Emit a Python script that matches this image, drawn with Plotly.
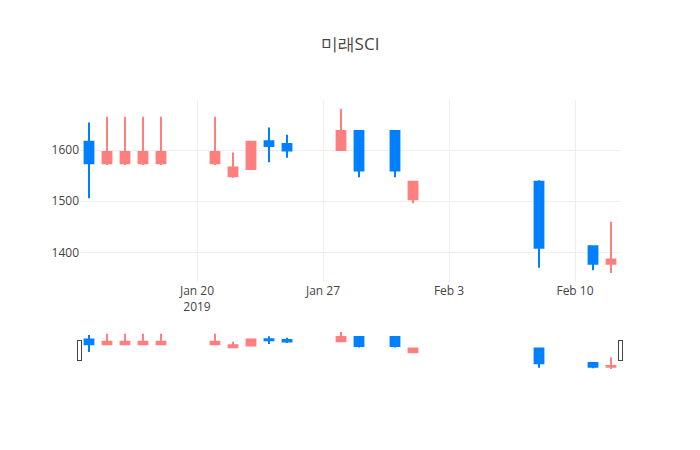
import pandas as pd
import plotly.graph_objects as go

dates = ["2019-01-14", "2019-01-15", "2019-01-16", "2019-01-17", "2019-01-18",
         "2019-01-21", "2019-01-22", "2019-01-23", "2019-01-24", "2019-01-25",
         "2019-01-28", "2019-01-29", "2019-01-31", "2019-02-01",
         "2019-02-08", "2019-02-11", "2019-02-12"]
open_ = [1616, 1574, 1574, 1574, 1574, 1574, 1549, 1563, 1617, 1612,
         1600, 1637, 1637, 1504, 1538, 1412, 1378]
high = [1654, 1665, 1665, 1665, 1665, 1665, 1595, 1617, 1644, 1630,
        1680, 1637, 1637, 1540, 1541, 1412, 1460]
low = [1506, 1571, 1571, 1571, 1571, 1571, 1546, 1561, 1576, 1585,
       1600, 1547, 1547, 1496, 1370, 1365, 1360]
close = [1574, 1596, 1596, 1596, 1596, 1596, 1566, 1616, 1608, 1599,
         1637, 1560, 1560, 1538, 1409, 1378, 1386]

df = pd.DataFrame({"Date": pd.to_datetime(dates), "Open": open_, "High": high,
                   "Low": low, "Close": close})

fig = go.Figure()
fig.add_trace(go.Candlestick(x=df["Date"], open=df["Open"], high=df["High"],
                             low=df["Low"], close=df["Close"],
                             increasing_line_color="#FF7F7F",
                             increasing_fillcolor="#FF7F7F",
                             decreasing_line_color="#0080FF",
                             decreasing_fillcolor="#0080FF"))
fig.update_layout(title=dict(text="미래SCI", x=0.5),
                  template="none",
                  width=700, height=450,
                  margin=dict(l=80, r=80, t=100, b=80),
                  xaxis=dict(rangeslider=dict(visible=True), gridcolor="#eee"),
                  yaxis=dict(dtick=100, gridcolor="#eee"),
                  showlegend=False)
# page body margin off so the chart sits at the window corner
fig.write_html("out.html", config={"displayModeBar": False},
               post_script="document.body.style.margin='0';")
